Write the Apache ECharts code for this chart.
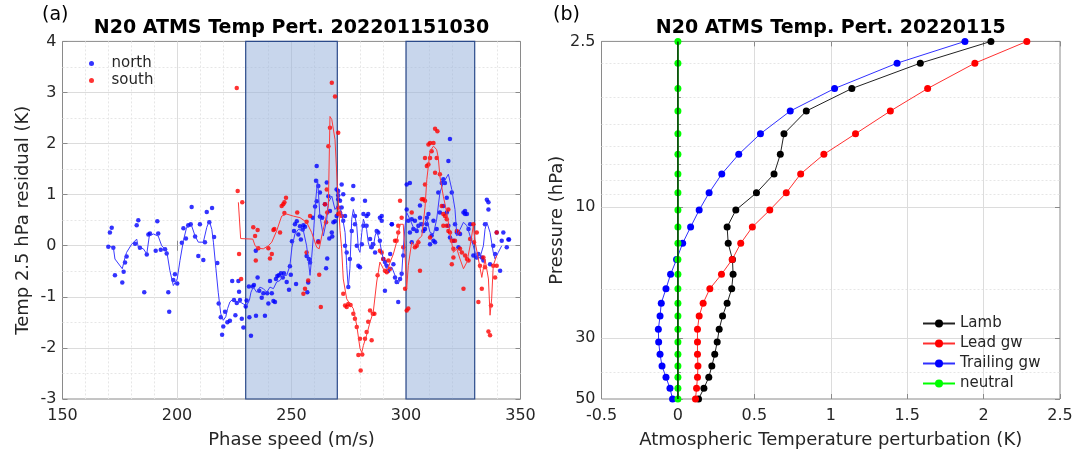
<!DOCTYPE html>
<html><head><meta charset="utf-8">
<script src="https://cdn.jsdelivr.net/npm/echarts@6/dist/echarts.min.js"></script>
<style>html,body{margin:0;padding:0;background:#fff}#c{width:1088px;height:454px}</style>
</head><body><div id="c"></div>
<script>
// ---------- Panel (a) data ----------
const northPoints = [[170.0,-0.02],[170.7,0.26],[171.5,0.35],[172.2,-0.04],[172.9,-0.58],[176.1,-0.72],[176.7,-0.51],[177.3,-0.33],[178.0,-0.21],[181.7,0.04],[182.4,0.40],[183.1,0.50],[183.8,-0.04],[185.7,-0.91],[186.8,-0.17],[187.5,0.22],[188.2,0.24],[190.7,-0.10],[191.4,0.48],[191.8,0.24],[192.9,-0.08],[194.8,-0.07],[195.5,-0.15],[196.2,-0.91],[196.6,-1.29],[198.4,-0.67],[199.1,-0.56],[200.1,-0.74],[202.1,0.06],[202.8,0.34],[203.9,0.14],[204.9,0.40],[206.0,0.42],[206.4,0.76],[207.9,0.18],[209.3,-0.20],[210.0,0.42],[211.5,-0.28],[212.2,0.07],[213.0,0.66],[214.1,0.46],[215.3,0.74],[216.2,0.17],[217.6,-0.34],[218.2,-1.13],[219.1,-1.40],[219.7,-1.74],[220.2,-1.58],[221.0,-1.29],[222.0,-1.50],[223.1,-1.47],[224.1,-0.69],[224.9,-1.06],[225.5,-1.36],[226.1,-1.12],[226.8,-0.69],[227.1,-0.90],[227.5,-1.06],[228.3,-1.43],[229.0,-1.60],[230.0,-1.19],[230.4,-1.07],[231.4,-0.80],[231.6,-1.40],[232.3,-1.76],[233.1,-0.80],[233.6,-0.77],[234.4,-0.10],[234.5,-1.37],[235.2,-0.62],[235.9,-0.88],[237.0,-1.02],[237.7,-0.93],[238.4,-1.37],[239.4,-0.93],[239.9,-1.13],[240.6,-0.69],[241.4,-0.93],[242.1,-1.08],[242.8,-1.10],[243.2,-0.65],[243.8,-0.59],[244.5,-0.58],[245.4,-0.54],[246.2,-0.62],[246.7,-0.54],[247.9,-0.71],[248.9,-0.86],[249.3,-0.40],[249.7,-0.57],[250.2,0.09],[251.1,0.29],[251.5,0.42],[252.0,-0.75],[252.3,0.48],[253.0,0.22],[253.7,0.38],[254.1,0.12],[254.9,0.32],[255.2,0.40],[255.9,0.37],[256.6,-0.20],[256.9,-0.91],[257.3,-0.72],[257.6,-0.26],[258.1,-0.33],[259.3,0.55],[260.3,0.77],[261.0,0.87],[261.7,0.09],[262.4,0.57],[263.4,0.55],[264.6,0.81],[265.1,-0.44],[265.6,-0.25],[266.5,0.14],[267.8,0.18],[269.0,0.48],
[261.0,1.56],[260.7,1.27],[261.7,1.17],[262.4,1.04],[265.4,1.24],[266.1,0.97],[270.4,0.91],[270.4,1.07],
[266.8,0.68],[269.7,1.10],[271.9,1.20],[270.4,0.99],[272.6,1.01],[271.2,0.88],[273.4,0.58],[277.0,1.17],[276.7,0.91],[277.7,0.58],[281.4,0.62],[282.8,0.39],[288.6,0.55],[293.8,0.42],[300.3,1.20],[301.7,1.23],[302.5,0.52],[306.1,0.79],[309.1,0.55],[312.0,0.49],[314.1,1.04],[315.6,1.23],[317.0,1.23],[316.3,1.30],[318.5,1.66],[319.2,2.09],[320.0,1.04],[317.8,0.94],[325.8,0.68],[326.6,0.62],[335.3,0.90],[336.0,0.85],[344.7,0.12],
[268.3,0.46],[267.6,0.26],[269.7,0.58],[271.9,0.75],[272.6,0.49],[273.4,0.00],[274.1,-0.13],[274.8,-0.81],[275.5,-0.26],[276.3,0.29],[277.7,0.42],[278.5,0.00],[279.2,-0.39],[279.9,-0.42],[280.7,0.03],[281.4,0.39],[282.1,0.88],[282.8,0.58],[283.5,0.62],[284.3,0.13],[285.0,-0.03],[285.7,0.03],[286.5,-0.13],[287.2,0.29],[287.9,0.26],[288.6,0.10],[289.4,0.58],[289.4,0.49],[290.1,-0.26],[290.8,-0.32],[290.8,-0.88],[291.6,-0.39],[292.3,-0.49],[293.8,0.42],[293.1,-0.16],[294.5,-0.36],[295.2,-0.62],[295.9,-0.71],[296.6,-1.10],[297.4,-0.65],[298.1,-0.55],[298.8,-0.19],[300.3,0.71],[301.0,0.49],[301.7,0.26],[302.5,0.07],[303.2,0.33],[303.9,0.49],[304.7,0.29],[305.4,0.39],[306.1,0.55],[306.9,0.42],[307.6,0.29],[308.3,0.33],[309.1,0.42],[309.8,0.62],[310.5,0.03],[311.2,0.20],[312.0,0.10],[312.7,0.07],[313.4,0.33],[314.8,0.65],[316.3,0.78],[317.8,0.65],[318.5,0.39],[319.2,0.16],[320.7,0.10],[321.4,0.42],[322.2,0.26],[322.9,-0.03],[323.6,0.23],[325.1,0.65],[325.8,0.62],[327.3,0.33],[328.0,0.42],[329.4,-0.19],[330.9,-0.23],[331.6,-0.16],[333.1,-0.23],[333.8,-0.29],[334.5,0.42],[336.0,0.71],[336.7,-0.36],[338.1,0.00],[338.9,-0.16],[339.6,0.26],[341.1,-0.49],[341.8,0.10],[342.5,0.26],[344.0,-0.03],[345.0,0.12]];

const southPoints = [[226.1,3.09],[226.5,1.07],[228.5,0.85],[227.1,-0.16],[228.0,-0.65],[233.3,0.36],[234.1,0.19],[234.4,-0.29],[235.2,0.31],[235.5,-0.05],[239.9,-0.05],[240.6,-0.25],[241.4,-0.16],[242.1,0.31],[242.5,0.33],[245.0,0.26],[245.7,0.78],[246.4,0.81],[246.9,0.85],[247.6,0.94],[246.9,0.64],[252.5,0.65],[255.2,-0.94],[255.9,-0.84],[256.6,-0.13],[256.6,0.47],[257.3,-0.68],[258.1,0.58],[261.7,0.07],[262.1,-0.57],[262.8,-1.20],[264.6,0.81],[265.1,0.46],[265.6,0.65],[265.4,1.10],[266.1,1.95],[266.8,2.31],[267.6,3.19],[269.0,2.92],[270.4,2.21],[270.4,0.75],[271.2,0.65],[271.9,0.58],[270.4,0.62],[272.6,-0.94],[273.4,-1.17],[274.1,-1.20],[274.8,-1.14],[275.8,-1.16],[277.0,-1.33],[277.7,-1.43],[278.5,-1.59],[279.2,-2.14],[279.9,-1.82],[280.2,-2.44],[280.9,-2.13],[282.1,-1.82],[282.8,-1.69],[283.5,-1.49],[284.3,-1.27],[285.0,-1.85],[285.5,-1.33],[286.2,-1.33],[287.6,-0.58],[288.6,-0.10],[289.4,-0.13],[290.1,-0.26],[290.8,-0.49],[291.6,-0.52],[292.3,-0.29],[293.1,-0.45],[295.2,0.10],[295.9,0.10],[296.6,0.39],[296.6,0.26],[297.4,0.88],[298.1,0.55],[298.8,-0.03],[299.6,-0.84],[300.3,-1.27],[301.0,-1.23],[302.5,0.65],[303.9,-0.03],[304.7,0.00],[305.4,0.07],[306.1,-0.49],[306.9,0.91],[307.6,0.91],[308.3,1.20],[308.3,0.88],[309.1,1.56],[309.8,1.59],[310.5,1.72],[308.3,1.72],[309.8,1.98],[310.5,2.01],[312.0,2.01],[312.7,2.29],[313.7,2.24],[311.2,1.85],[313.4,1.72],[312.7,1.43],[314.8,1.40],[318.5,0.71],[317.0,0.58],[317.8,0.52],[316.3,0.39],[310.5,0.16],[315.6,0.78],[316.3,0.62],[317.8,0.39],[318.5,0.29],[319.2,0.26],[320.0,0.10],[320.7,-0.06],[321.4,0.10],[320.0,-0.36],[320.7,-0.23],[322.2,0.29],[322.9,0.26],[323.6,-0.06],[324.4,-0.13],[325.1,-0.84],[325.8,-0.19],[326.6,-0.26],[327.3,-0.29],[328.0,0.13],[329.4,0.42],[329.7,0.07],[330.9,0.26],[331.6,-1.10],[332.3,-0.39],[333.1,-0.84],[333.8,-0.23],[334.5,-0.42],[336.0,-1.68],[336.7,-1.75],[337.1,-1.17],[338.1,-0.39],[338.9,-0.62],[339.6,-0.39],[339.6,0.26]];

const northSmooth = [[170.0,-0.01],[172.2,-0.03],[172.9,-0.26],[176.1,-0.45],[177.3,-0.23],[178.0,-0.13],[180.2,0.03],[182.4,0.13],[183.1,-0.03],[185.3,-0.06],[186.8,-0.16],[187.9,0.19],[189.7,0.23],[191.8,0.19],[193.3,0.00],[195.5,-0.10],[196.9,-0.49],[198.4,-0.78],[200.1,-0.65],[201.3,-0.29],[202.8,0.10],[204.2,0.36],[206.4,0.39],[207.9,0.19],[209.3,0.07],[210.0,0.10],[211.5,0.07],[213.0,0.36],[214.1,0.49],[215.2,0.32],[215.9,0.07],[217.0,-0.45],[218.0,-0.91],[219.1,-1.33],[220.2,-1.46],[221.3,-1.39],[222.1,-1.23],[223.1,-1.10],[224.6,-1.04],[226.1,-1.14],[227.5,-1.10],[229.0,-1.14],[230.4,-1.17],[231.6,-1.07],[232.3,-0.91],[233.3,-0.81],[234.8,-0.91],[236.2,-0.81],[237.7,-0.84],[239.2,-0.91],[240.6,-0.81],[242.1,-0.84],[243.5,-0.71],[245.0,-0.68],[246.4,-0.58],[247.9,-0.58],[249.3,-0.39],[250.2,-0.03],[251.5,0.23],[253.0,0.32],[255.2,0.29],[256.6,0.00],[258.1,-0.58],[258.8,-0.23],[259.5,0.16],[260.3,0.75],[261.4,1.30],[262.4,0.58],[263.9,0.19],[265.4,0.52],[266.1,0.85],[267.6,0.97],[269.0,0.71],[270.4,0.80],[271.9,0.65],[273.4,0.26],[274.1,-0.39],[274.8,-0.84],[275.5,-0.45],[276.3,0.52],[277.0,0.71],[277.7,0.58],[278.5,0.39],[279.2,-0.06],[279.9,-0.13],[280.7,0.26],[281.4,0.52],[282.1,0.55],[282.8,0.32],[283.5,0.07],[284.3,-0.06],[285.0,0.07],[285.7,-0.03],[286.5,0.19],[287.2,0.29],[287.9,0.26],[288.6,0.07],[289.4,-0.13],[290.8,-0.39],[292.3,-0.49],[293.8,-0.42],[295.2,-0.58],[295.9,-0.71],[296.6,-0.75],[298.1,-0.58],[298.8,-0.06],[299.6,0.39],[300.3,0.65],[301.7,0.52],[303.2,0.36],[304.7,0.32],[306.1,0.46],[307.6,0.39],[309.1,0.52],[310.5,0.26],[312.0,0.23],[313.4,0.52],[314.8,1.04],[316.3,1.23],[318.5,1.40],[320.0,1.10],[321.4,0.71],[322.2,0.19],[323.6,0.32],[325.1,0.46],[326.6,0.39],[328.0,0.19],[329.4,0.00],[330.9,-0.26],[332.3,-0.23],[333.8,0.00],[334.5,0.32],[335.3,0.46],[336.7,0.26],[338.1,-0.13],[338.9,-0.26],[340.3,-0.13],[341.8,0.00]];

const southSmooth = [[226.8,0.85],[227.8,0.14],[233.1,0.13],[234.1,0.00],[235.5,-0.05],[237.7,-0.06],[239.9,0.00],[241.4,0.07],[243.5,0.29],[245.7,0.58],[247.9,0.62],[250.8,0.58],[253.7,0.55],[256.6,0.46],[258.8,0.26],[261.0,-0.03],[262.1,-0.06],[263.2,0.19],[264.6,0.46],[266.1,0.78],[266.8,2.53],[267.6,2.47],[269.0,2.08],[270.0,1.20],[271.2,0.30],[271.9,-0.06],[272.6,-0.65],[274.1,-1.04],[275.5,-1.14],[277.0,-1.23],[278.5,-1.56],[279.9,-2.01],[280.7,-2.09],[281.4,-1.95],[282.8,-1.75],[284.3,-1.49],[285.7,-1.30],[287.2,-0.71],[288.6,-0.32],[290.1,-0.45],[291.6,-0.52],[293.1,-0.32],[294.5,-0.16],[295.9,0.07],[297.4,0.42],[298.8,0.42],[299.6,-0.19],[300.3,-0.84],[301.0,-0.39],[302.5,0.07],[303.9,0.00],[305.4,0.13],[306.9,0.19],[308.3,0.75],[309.1,1.30],[310.5,1.85],[312.0,1.95],[313.4,1.88],[314.1,1.72],[314.8,1.36],[316.3,0.97],[317.8,0.65],[319.2,0.26],[320.7,-0.13],[322.2,-0.06],[323.6,-0.26],[325.1,-0.45],[326.6,-0.32],[328.0,0.00],[329.4,0.39],[330.2,0.07],[331.6,-0.26],[333.1,-0.62],[334.5,-0.26],[336.0,-0.65],[336.7,-1.36],[337.4,-1.04],[338.1,-0.39],[339.6,-0.19]];

const shadedRanges = [[230, 270], [300, 330]];

// ---------- Panel (b) data ----------
const pressureLevels = [2.5, 3.0, 3.71, 4.48, 5.42, 6.44, 7.59, 8.89, 10.27, 11.84, 13.57, 15.54, 17.6, 19.85, 22.4, 24.96, 27.9, 31.0, 34.4, 37.9, 41.7, 45.7, 50];
const lambPert     = [2.048, 1.586, 1.138, 0.840, 0.694, 0.670, 0.629, 0.514, 0.379, 0.322, 0.329, 0.357, 0.361, 0.352, 0.322, 0.292, 0.270, 0.257, 0.241, 0.222, 0.202, 0.170, 0.135];
const leadGwPert   = [2.283, 1.943, 1.634, 1.390, 1.162, 0.955, 0.803, 0.709, 0.601, 0.487, 0.411, 0.355, 0.285, 0.209, 0.165, 0.139, 0.128, 0.128, 0.128, 0.131, 0.128, 0.122, 0.115];
const trailGwPert  = [1.878, 1.434, 1.025, 0.735, 0.540, 0.398, 0.287, 0.204, 0.139, 0.083, 0.031, -0.009, -0.048, -0.078, -0.109, -0.117, -0.128, -0.126, -0.117, -0.104, -0.078, -0.052, -0.035];
const neutralPert  = [0, 0, 0, 0, 0, 0, 0, 0, 0, 0, 0, 0, 0, 0, 0, 0, 0, 0, 0, 0, 0, 0, 0];
const zeroLine     = [[0, 2.5], [0, 50]];
const pressureTicks = [2.5, 10, 30, 50];
const pressureMinorTicks = [3, 4, 5, 6, 7, 8, 9, 20, 40];

// ---------- chart ----------
const FONT = 'DejaVu Sans';
const AX = '#8a8a8a';
const TXT = '#262626';
const GRIDC = '#dcdcdc';
const MINORC = '#e6e6e6';

const chart = echarts.init(document.getElementById('c'), null, {renderer: 'canvas'});

function prof(vals) { return vals.map((v, i) => [v, pressureLevels[i]]); }

const tickIn = {inside: true, length: 5, lineStyle: {color: AX}};
const lbl = {fontSize: 16, color: TXT, fontFamily: FONT};
const nameStyle = {fontSize: 18, color: TXT, fontFamily: FONT};

const option = {
  animation: false,
  textStyle: {fontFamily: FONT},
  grid: [
    {left: 62.5, top: 41.4, width: 458, height: 359.3, show: true, borderColor: AX, borderWidth: 1, backgroundColor: '#fff'},
    {left: 601.5, top: 41.4, width: 458.5, height: 359.3, show: true, borderColor: AX, borderWidth: 1, backgroundColor: '#fff'}
  ],
  xAxis: [
    {gridIndex: 0, type: 'value', min: 150, max: 350, interval: 50, axisLine: {show: false},
     axisTick: tickIn, axisLabel: Object.assign({margin: 9}, lbl),
     splitLine: {show: true, showMinLine: false, showMaxLine: false, lineStyle: {color: GRIDC}},
     minorTick: {show: false, splitNumber: 5},
     minorSplitLine: {show: true, lineStyle: {color: MINORC, type: [2, 2]}},
     name: 'Phase speed (m/s)', nameLocation: 'middle', nameGap: 32, nameTextStyle: nameStyle},
    {gridIndex: 0, type: 'value', position: 'top', min: 150, max: 350, interval: 50, axisLine: {show: false},
     axisTick: tickIn, axisLabel: {show: false}, splitLine: {show: false}},
    {gridIndex: 1, type: 'value', min: -0.5, max: 2.5, interval: 0.5, axisLine: {show: false},
     axisTick: tickIn, axisLabel: Object.assign({margin: 9}, lbl),
     splitLine: {show: true, showMinLine: false, showMaxLine: false, lineStyle: {color: GRIDC}},
     name: 'Atmospheric Temperature perturbation (K)', nameLocation: 'middle', nameGap: 32, nameTextStyle: nameStyle},
    {gridIndex: 1, type: 'value', position: 'top', min: -0.5, max: 2.5, interval: 0.5, axisLine: {show: false},
     axisTick: tickIn, axisLabel: {show: false}, splitLine: {show: false}}
  ],
  yAxis: [
    {gridIndex: 0, type: 'value', min: -3, max: 4, interval: 1, axisLine: {show: false},
     axisTick: tickIn, axisLabel: Object.assign({margin: 6}, lbl),
     splitLine: {show: true, showMinLine: false, showMaxLine: false, lineStyle: {color: GRIDC}},
     minorTick: {show: false, splitNumber: 2},
     minorSplitLine: {show: true, lineStyle: {color: MINORC, type: [2, 2]}},
     name: 'Temp 2.5 hPa residual (K)', nameLocation: 'middle', nameGap: 30, nameTextStyle: nameStyle},
    {gridIndex: 0, type: 'value', position: 'right', min: -3, max: 4, interval: 1, axisLine: {show: false},
     axisTick: tickIn, axisLabel: {show: false}, splitLine: {show: false}},
    {gridIndex: 1, type: 'log', logBase: 10, min: 2.5, max: 50, inverse: true, position: 'left', axisLine: {show: false},
     axisTick: Object.assign({customValues: pressureTicks}, tickIn),
     axisLabel: Object.assign({margin: 6, customValues: pressureTicks, formatter: v => String(+v.toFixed(2))}, lbl),
     splitLine: {show: true, showMinLine: false, showMaxLine: false, lineStyle: {color: GRIDC}},
     name: 'Pressure (hPa)', nameLocation: 'middle', nameGap: 34, nameTextStyle: nameStyle},
    {gridIndex: 1, type: 'log', logBase: 10, min: 2.5, max: 50, inverse: true, position: 'left', offset: 0, axisLine: {show: false},
     axisTick: {customValues: pressureMinorTicks, inside: true, length: 3, lineStyle: {color: AX}},
     axisLabel: {show: false, customValues: pressureMinorTicks},
     splitLine: {show: true, lineStyle: {color: MINORC, type: [2, 2]}}},
    {gridIndex: 1, type: 'log', logBase: 10, min: 2.5, max: 50, inverse: true, position: 'right', axisLine: {show: false},
     axisTick: Object.assign({customValues: pressureTicks}, tickIn),
     axisLabel: {show: false, customValues: pressureTicks}, splitLine: {show: false}}
  ],
  legend: [
    {data: ['north', 'south'], orient: 'vertical', left: 84, top: 51, itemWidth: 30, itemHeight: 5, itemGap: 2,
     icon: 'circle', textStyle: {fontSize: 15, color: TXT, fontFamily: FONT}},
    {data: ['Lamb', 'Lead gw', 'Trailing gw', 'neutral'], orient: 'vertical', left: 917, top: 311,
     itemWidth: 32, itemHeight: 10, itemGap: 5, textStyle: {fontSize: 15, color: TXT, fontFamily: FONT}}
  ],
  graphic: [
    {type: 'text', left: 42, top: 6, style: {text: '(a)', font: '19px "DejaVu Sans"', fill: '#000'}},
    {type: 'text', left: 553, top: 6, style: {text: '(b)', font: '19px "DejaVu Sans"', fill: '#000'}},
    {type: 'text', x: 291.5, y: 28, style: {text: 'N20 ATMS Temp Pert. 202201151030', font: 'bold 19px "DejaVu Sans"', fill: '#000', align: 'center', verticalAlign: 'middle'}},
    {type: 'text', x: 830.75, y: 28, style: {text: 'N20 ATMS Temp. Pert. 20220115', font: 'bold 19px "DejaVu Sans"', fill: '#000', align: 'center', verticalAlign: 'middle'}}
  ],
  series: [
    {name: 'boxes', type: 'scatter', xAxisIndex: 0, yAxisIndex: 0, data: [], z: 1, silent: true,
     markArea: {silent: true, itemStyle: {color: 'rgba(155,181,221,0.55)', borderColor: '#2b4a8a', borderWidth: 1.2},
       data: shadedRanges.map(r => [{xAxis: r[0]}, {xAxis: r[1]}])}},
    {name: 'north', type: 'scatter', xAxisIndex: 0, yAxisIndex: 0, data: northPoints, symbolSize: 4.5,
     itemStyle: {color: '#0000ff'}, z: 3},
    {name: 'south', type: 'scatter', xAxisIndex: 0, yAxisIndex: 0, data: southPoints, symbolSize: 4.5,
     itemStyle: {color: '#ff0000'}, z: 3},
    {name: 'north smooth', type: 'line', xAxisIndex: 0, yAxisIndex: 0, data: northSmooth, showSymbol: false,
     lineStyle: {color: '#3a3aff', width: 1}, z: 4},
    {name: 'south smooth', type: 'line', xAxisIndex: 0, yAxisIndex: 0, data: southSmooth, showSymbol: false,
     lineStyle: {color: '#ff3a3a', width: 1}, z: 4},

    {name: 'Lamb', type: 'line', xAxisIndex: 2, yAxisIndex: 2, data: prof(lambPert), symbol: 'circle', symbolSize: 7,
     itemStyle: {color: '#000'}, lineStyle: {color: '#222', width: 1}, z: 5},
    {name: 'Lead gw', type: 'line', xAxisIndex: 2, yAxisIndex: 2, data: prof(leadGwPert), symbol: 'circle', symbolSize: 7,
     itemStyle: {color: '#ff0000'}, lineStyle: {color: '#ff3030', width: 1}, z: 5},
    {name: 'Trailing gw', type: 'line', xAxisIndex: 2, yAxisIndex: 2, data: prof(trailGwPert), symbol: 'circle', symbolSize: 7,
     itemStyle: {color: '#0000ff'}, lineStyle: {color: '#3030ff', width: 1}, z: 5},
    {name: 'neutral', type: 'line', xAxisIndex: 2, yAxisIndex: 2, data: prof(neutralPert), symbol: 'circle', symbolSize: 7,
     itemStyle: {color: '#00ff00'}, lineStyle: {color: '#00ff00', width: 1.5}, z: 6},
    {name: 'zero', type: 'line', xAxisIndex: 2, yAxisIndex: 2, data: zeroLine, showSymbol: false, silent: true,
     lineStyle: {color: '#000', width: 1.2}, z: 7}
  ]
};
chart.setOption(option);
</script>
</body></html>
